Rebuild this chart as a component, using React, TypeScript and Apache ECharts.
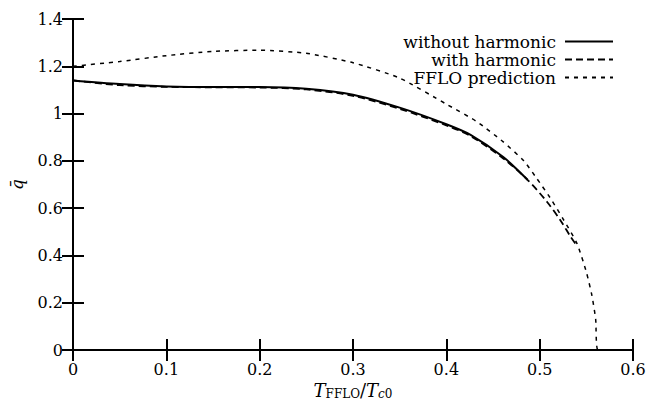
import React, { useEffect, useRef } from "react";
import * as echarts from "echarts";

const xTicks = [0, 0.1, 0.2, 0.3, 0.4, 0.5, 0.6];
const yTicks = [0, 0.2, 0.4, 0.6, 0.8, 1, 1.2, 1.4];

const tWithout = [0, 0.05, 0.1, 0.15, 0.2, 0.25, 0.3, 0.35, 0.4, 0.426, 0.461, 0.487];
const qWithout = [1.14, 1.125, 1.115, 1.112, 1.112, 1.105, 1.08, 1.025, 0.955, 0.91, 0.816, 0.72];

const tWith = [0, 0.05, 0.1, 0.15, 0.2, 0.25, 0.3, 0.35, 0.4, 0.426, 0.461, 0.487, 0.508, 0.522, 0.533, 0.54];
const qWith = [1.14, 1.12, 1.113, 1.111, 1.11, 1.102, 1.075, 1.02, 0.95, 0.905, 0.81, 0.72, 0.626, 0.55, 0.48, 0.44];

const tFFLO = [0, 0.05, 0.1, 0.15, 0.2, 0.25, 0.3, 0.35, 0.4, 0.433, 0.461, 0.483, 0.497, 0.511, 0.525, 0.54, 0.55, 0.556, 0.56, 0.5625, 0.586];
const qFFLO = [1.2, 1.22, 1.245, 1.263, 1.268, 1.255, 1.215, 1.15, 1.04, 0.965, 0.88, 0.8, 0.725, 0.645, 0.555, 0.45, 0.33, 0.23, 0.13, 0, 0];

const names = ["without harmonic", "with harmonic", "FFLO prediction"];

const FONT = "'DejaVu Serif', serif";

function pairs(xs: number[], ys: number[]) {
  return xs.map((x, i) => [x, ys[i]]);
}

export default function App() {
  const ref = useRef<HTMLDivElement>(null);
  useEffect(() => {
    if (!ref.current) return;
    const chart = echarts.init(ref.current, null, { renderer: "svg" });
    const axisLine = { show: true, lineStyle: { color: "#000", width: 2 } };
    const tick = { show: true, inside: true, length: 11, lineStyle: { color: "#000", width: 2 } };
    const label = { color: "#000", fontFamily: FONT, fontSize: 16 };
    const legendBase = {
      right: 38,
      itemWidth: 48,
      itemHeight: 12,
      itemGap: 0,
      align: "right" as const,
      itemStyle: { opacity: 0, borderWidth: 0 },
      textStyle: { color: "#000", fontFamily: FONT, fontSize: 17, padding: [0, 4, 0, 0] },
      selectedMode: false,
      padding: 0,
    };
    chart.setOption({
      animation: false,
      backgroundColor: "#fff",
      grid: { left: 71, right: 19, top: 19, bottom: 57 },
      legend: [
        { ...legendBase, top: 33, data: [names[0]] },
        { ...legendBase, top: 51, data: [names[1]] },
        { ...legendBase, top: 69, data: [names[2]] },
      ],
      xAxis: [
        {
          type: "value",
          min: 0,
          max: 0.6,
          interval: 0.1,
          axisLine,
          axisTick: tick,
          splitLine: { show: false },
          axisLabel: { ...label, margin: 11, formatter: (v: number) => String(Math.round(v * 10) / 10) },
          name: "{i|T}{s|FFLO}{n|/}{i|T}{si|c}{s|0}",
          nameLocation: "middle",
          nameGap: 29,
          nameTextStyle: {
            rich: {
              i: { fontFamily: FONT, fontStyle: "italic", fontSize: 18, color: "#000" },
              n: { fontFamily: FONT, fontSize: 18, color: "#000" },
              s: { fontFamily: FONT, fontSize: 12, color: "#000", padding: [7, 0, 0, 0] },
              si: { fontFamily: FONT, fontStyle: "italic", fontSize: 12, color: "#000", padding: [7, 0, 0, 0] },
            },
          },
        },
        {
          type: "value",
          position: "top",
          min: 0,
          max: 0.6,
          interval: 0.1,
          axisLine,
          axisTick: tick,
          axisLabel: { show: false },
          splitLine: { show: false },
        },
      ],
      yAxis: [
        {
          type: "value",
          min: 0,
          max: 1.4,
          interval: 0.2,
          axisLine,
          axisTick: tick,
          splitLine: { show: false },
          axisLabel: { ...label, margin: 10, formatter: (v: number) => String(Math.round(v * 10) / 10) },
          name: "q\u0304",
          nameLocation: "middle",
          nameGap: 48,
          nameRotate: 90,
          nameTextStyle: { fontFamily: FONT, fontStyle: "italic", fontSize: 17, color: "#000" },
        },
        {
          type: "value",
          position: "right",
          min: 0,
          max: 1.4,
          interval: 0.2,
          axisLine,
          axisTick: tick,
          axisLabel: { show: false },
          splitLine: { show: false },
        },
      ],
      series: [
        {
          name: names[0],
          type: "line",
          data: pairs(tWithout, qWithout),
          showSymbol: false,
          symbol: "none",
          smooth: 0.3,
          lineStyle: { color: "#000", width: 2, type: "solid" },
          itemStyle: { color: "#000" },
        },
        {
          name: names[1],
          type: "line",
          data: pairs(tWith, qWith),
          showSymbol: false,
          symbol: "none",
          smooth: 0.3,
          lineStyle: { color: "#000", width: 1.8, type: [7, 4] },
          itemStyle: { color: "#000" },
        },
        {
          name: names[2],
          type: "line",
          data: pairs(tFFLO, qFFLO),
          showSymbol: false,
          symbol: "none",
          smooth: 0.2,
          lineStyle: { color: "#000", width: 1.5, type: [4, 5] },
          itemStyle: { color: "#000" },
        },
      ],
    });
    return () => chart.dispose();
  }, []);
  return <div ref={ref} style={{ width: 652, height: 407, position: "absolute", left: 0, top: 0 }} />;
}
